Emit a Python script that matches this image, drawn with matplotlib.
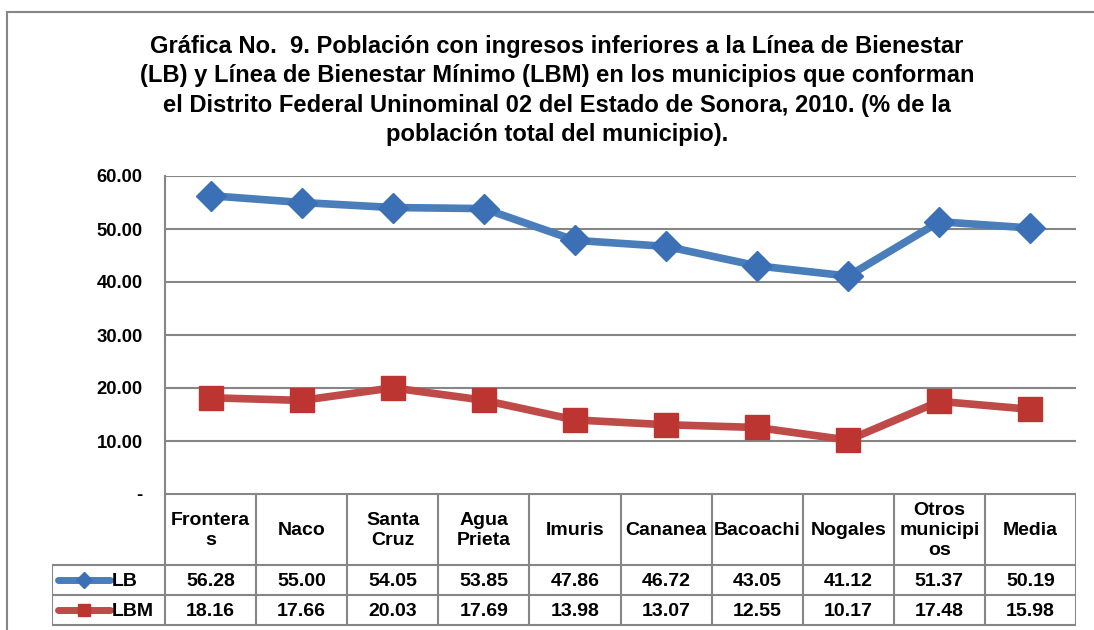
import matplotlib
matplotlib.use("Agg")
import matplotlib.pyplot as plt
from matplotlib.lines import Line2D

plt.rcParams['font.family'] = ['Liberation Sans', 'DejaVu Sans']
plt.rcParams['font.weight'] = 'bold'

# data
municipios = ["Frontera\ns", "Naco", "Santa\nCruz", "Agua\nPrieta", "Imuris",
              "Cananea", "Bacoachi", "Nogales", "Otros\nmunicipi\nos", "Media"]
lb = [56.28, 55.00, 54.05, 53.85, 47.86, 46.72, 43.05, 41.12, 51.37, 50.19]
lbm = [18.16, 17.66, 20.03, 17.69, 13.98, 13.07, 12.55, 10.17, 17.48, 15.98]
yticks = [0, 10, 20, 30, 40, 50, 60]
ytick_labels = ["-", "10.00", "20.00", "30.00", "40.00", "50.00", "60.00"]

titulo = ("Gráfica No.  9. Población con ingresos inferiores a la Línea de Bienestar\n"
          "(LB) y Línea de Bienestar Mínimo (LBM) en los municipios que conforman\n"
          "el Distrito Federal Uninominal 02 del Estado de Sonora, 2010. (% de la\n"
          "población total del municipio).")

BLUE = "#4A7EBB"
BLUE_M = "#3B70B6"
RED = "#BE4B48"
RED_M = "#BC3530"
GRID = "#868686"

W, H = 1094, 630
fig = plt.figure(figsize=(W / 100, H / 100), dpi=100)

def fx(px):
    return px / W

def fy(py):
    return 1 - py / H

# outer frame of the chart
fig.add_artist(Line2D([fx(7), fx(7)], [fy(12), fy(640)], color=GRID, lw=1.5))
fig.add_artist(Line2D([fx(7), fx(1100)], [fy(12), fy(12)], color=GRID, lw=1.5))

fig.text(fx(557), fy(35), titulo, ha='center', va='top', fontsize=17.1,
         fontweight='bold', linespacing=1.36)

# plot area
left, right, top, bottom = 165, 1076, 176, 494
ax = fig.add_axes([fx(left), fy(bottom), fx(right - left), (bottom - top) / H])
x = list(range(len(municipios)))
ax.plot(x, lb, color=BLUE, lw=5.5, marker='D', ms=15, mfc=BLUE_M, mec=BLUE_M,
        solid_capstyle='round', zorder=3)
ax.plot(x, lbm, color=RED, lw=5.5, marker='s', ms=17, mfc=RED_M, mec=RED_M,
        solid_capstyle='round', zorder=3)
ax.set_xlim(-0.5, len(municipios) - 0.5)
ax.set_ylim(0, 60)
ax.set_yticks(yticks)
ax.set_yticklabels(ytick_labels, fontsize=13.3, fontweight='bold')
ax.set_xticks([])
ax.tick_params(axis='y', length=0, pad=16)
ax.grid(axis='y', color=GRID, lw=1.5)
ax.set_axisbelow(True)
for s in ['top', 'right', 'bottom']:
    ax.spines[s].set_visible(False)
ax.spines['left'].set_color(GRID)
ax.spines['left'].set_linewidth(1.5)

# data table
rows = [494, 565, 595, 625]
legend_w = (left - 52) / ((right - left) / len(municipios))
tx0 = -0.5 - legend_w
tx1 = len(municipios) - 0.5
tab = fig.add_axes([fx(52), fy(627), fx(right - 52), 133 / H])
tab.set_xlim(tx0, tx1)
tab.set_ylim(627, 494)
tab.axis('off')
lc = dict(color=GRID, lw=1.5)
tab.plot([-0.5, tx1], [rows[0], rows[0]], **lc)
for r in rows[1:]:
    tab.plot([tx0, tx1], [r, r], **lc)
for i in range(len(municipios) + 1):
    tab.plot([i - 0.5, i - 0.5], [rows[0], rows[3]], **lc)
tab.plot([tx0, tx0], [rows[1], rows[3]], **lc)

for i, name in enumerate(municipios):
    tab.text(i, (rows[0] + rows[1]) / 2 + 1, name, ha='center', va='center',
             fontsize=14, fontweight='bold', linespacing=1.22)
    tab.text(i, (rows[1] + rows[2]) / 2 + 1, f"{lb[i]:.2f}", ha='center',
             va='center', fontsize=14, fontweight='bold')
    tab.text(i, (rows[2] + rows[3]) / 2 + 1, f"{lbm[i]:.2f}", ha='center',
             va='center', fontsize=14, fontweight='bold')

# legend keys inside the table
for (ya, yb), name, col, mcol, mk, ms in [((rows[1], rows[2]), "LB", BLUE, BLUE_M, 'D', 8),
                                         ((rows[2], rows[3]), "LBM", RED, RED_M, 's', 9)]:
    yc = (ya + yb) / 2
    x0 = tx0 + 0.07
    x1 = tx0 + 0.64
    tab.plot([x0, x1], [yc, yc], color=col, lw=5, solid_capstyle='round')
    tab.plot([(x0 + x1) / 2], [yc], marker=mk, ms=ms, color=mcol)
    tab.text(x1 + 0.02, yc + 1, name, ha='left', va='center', fontsize=14,
             fontweight='bold')

fig.savefig("out.png", dpi=100)
